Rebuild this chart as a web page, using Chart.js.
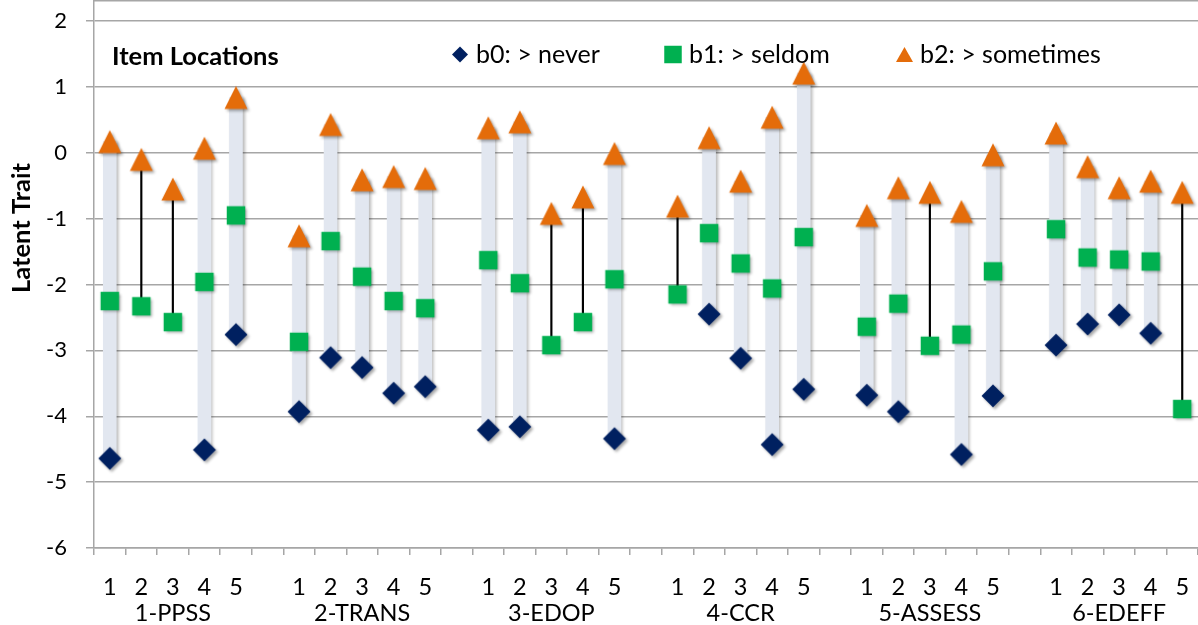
<!DOCTYPE html>
<html>
<head>
<meta charset="utf-8">
<title>Item Locations</title>
<script src="https://cdn.jsdelivr.net/npm/chart.js@4.4.1/dist/chart.umd.min.js"></script>
<style>
  html, body { margin: 0; padding: 0; background: #fff; }
  #wrap { width: 1198px; height: 625px; }
</style>
</head>
<body>
<div id="wrap"><canvas id="itemsChart" width="1198" height="625"></canvas></div>
<script>
// datos: umbrales por item (6 escalas x 5 items)
const grupos = ['1-PPSS', '2-TRANS', '3-EDOP', '4-CCR', '5-ASSESS', '6-EDEFF'];
const items = ['1', '2', '3', '4', '5'];
const b0 = [-4.64, null, null, -4.51, -2.76,
            -3.93, -3.11, -3.26, -3.65, -3.55,
            -4.21, -4.16, null, null, -4.34,
            null, -2.45, -3.12, -4.43, -3.59,
            -3.68, -3.93, null, -4.58, -3.69,
            -2.92, -2.60, -2.46, -2.74, null];
const b1 = [-2.25, -2.33, -2.57, -1.96, -0.95,
            -2.87, -1.34, -1.88, -2.25, -2.36,
            -1.63, -1.98, -2.92, -2.57, -1.92,
            -2.15, -1.22, -1.68, -2.06, -1.28,
            -2.64, -2.29, -2.93, -2.76, -1.80,
            -1.16, -1.59, -1.62, -1.65, -3.89];
const b2 = [0.17, -0.10, -0.55, 0.07, 0.84,
            -1.26, 0.43, -0.41, -0.36, -0.39,
            0.38, 0.47, -0.92, -0.67, -0.01,
            -0.81, 0.23, -0.43, 0.54, 1.21,
            -0.95, -0.53, -0.60, -0.89, -0.03,
            0.30, -0.21, -0.53, -0.43, -0.60];
const yTicks = [-6, -5, -4, -3, -2, -1, 0, 1, 2];
const series = ['b0: > never', 'b1: > seldom', 'b2: > sometimes'];

const FONT = 'Lato, "Open Sans", sans-serif';
const COLORES = { b0: '#002060', b1: '#00b050', b2: '#e46c0a' };

// un hueco vacío entre escalas
function conHuecos(valores) {
    const out = [];
    grupos.forEach((g, gi) => {
        if (gi > 0) out.push(null);
        items.forEach((it, ii) => out.push(valores[gi * items.length + ii]));
    });
    return out;
}

const etiquetas = [];
grupos.forEach((g, gi) => {
    if (gi > 0) etiquetas.push('');
    items.forEach((it, ii) => etiquetas.push(ii === 2 ? [it, g] : it));
});

const s0 = conHuecos(b0), s1 = conHuecos(b1), s2 = conHuecos(b2);
const rango = s0.map((v, i) => (v === null ? null : [v, s2[i]]));
const linea = s0.map((v, i) => (v === null && s1[i] !== null ? [s1[i], s2[i]] : null));

function dibujarForma(ctx, forma, x, y, w, h, color) {
    ctx.fillStyle = color;
    ctx.beginPath();
    if (forma === 'diamond') {
        ctx.moveTo(x, y - h / 2); ctx.lineTo(x + w / 2, y);
        ctx.lineTo(x, y + h / 2); ctx.lineTo(x - w / 2, y);
    } else if (forma === 'square') {
        ctx.rect(x - w / 2, y - h / 2, w, h);
    } else {
        ctx.moveTo(x, y - h / 2); ctx.lineTo(x + w / 2, y + h / 2); ctx.lineTo(x - w / 2, y + h / 2);
    }
    ctx.closePath();
    ctx.fill();
}

function marcador(forma, w, h, color) {
    const c = document.createElement('canvas');
    c.width = 44; c.height = 44;
    const ctx = c.getContext('2d');
    ctx.shadowColor = 'rgba(0,0,0,0.35)';
    ctx.shadowBlur = 3;
    ctx.shadowOffsetX = 2;
    ctx.shadowOffsetY = 2;
    dibujarForma(ctx, forma, 22, 22, w, h, color);
    return c;
}

// sombra suave en las barras
const sombraBarras = {
    id: 'sombraBarras',
    beforeDatasetDraw(chart, args) {
        if (!args.meta._dataset.sombra) return;
        const ctx = chart.ctx;
        ctx.save();
        ctx.shadowColor = 'rgba(0,0,0,0.28)';
        ctx.shadowBlur = 3;
        ctx.shadowOffsetX = 2;
        ctx.shadowOffsetY = 1;
    },
    afterDatasetDraw(chart, args) {
        if (!args.meta._dataset.sombra) return;
        chart.ctx.restore();
    }
};

// titulo, leyenda, borde superior y titulo del eje
const adornos = {
    id: 'adornos',
    afterDraw(chart) {
        const ctx = chart.ctx;
        const area = chart.chartArea;
        ctx.save();
        ctx.strokeStyle = '#a6a6a6';
        ctx.lineWidth = 1.5;
        ctx.beginPath();
        ctx.moveTo(area.left, area.top + 0.75);
        ctx.lineTo(area.right, area.top + 0.75);
        ctx.stroke();

        ctx.fillStyle = '#000';
        ctx.textBaseline = 'alphabetic';
        ctx.textAlign = 'left';
        ctx.font = 'bold 25.5px ' + FONT;
        ctx.fillText('Item Locations', 112, 65);

        const leyenda = [
            { forma: 'diamond', x: 460, w: 16, h: 16, color: COLORES.b0, tx: 476 },
            { forma: 'square', x: 673, w: 17.5, h: 17.5, color: COLORES.b1, tx: 689 },
            { forma: 'triangle', x: 904.5, w: 17, h: 15, color: COLORES.b2, tx: 920 }
        ];
        ctx.font = '25px ' + FONT;
        leyenda.forEach((l, i) => {
            dibujarForma(ctx, l.forma, l.x, 54.5, l.w, l.h, l.color);
            ctx.fillStyle = '#000';
            ctx.fillText(series[i], l.tx, 62.5);
        });

        ctx.translate(30, 228);
        ctx.rotate(-Math.PI / 2);
        ctx.textAlign = 'center';
        ctx.font = 'bold 25.5px ' + FONT;
        ctx.fillText('Latent Trait', 0, 0);
        ctx.restore();
    }
};

const ctx = document.getElementById('itemsChart').getContext('2d');
new Chart(ctx, {
    type: 'bar',
    data: {
        labels: etiquetas,
        datasets: [
            {
                type: 'bar', label: 'rango', data: rango, sombra: true,
                backgroundColor: '#e2e7f0', barThickness: 13, grouped: false, order: 10
            },
            {
                type: 'bar', label: 'linea', data: linea,
                backgroundColor: '#000', barThickness: 1.5, grouped: false, order: 9
            },
            {
                type: 'line', label: series[0], data: s0, showLine: false, order: 3,
                pointStyle: marcador('diamond', 23, 23, COLORES.b0), pointRadius: 11
            },
            {
                type: 'line', label: series[1], data: s1, showLine: false, order: 2,
                pointStyle: marcador('square', 18.5, 18.5, COLORES.b1), pointRadius: 9
            },
            {
                type: 'line', label: series[2], data: s2, showLine: false, order: 1,
                pointStyle: marcador('triangle', 23, 23, COLORES.b2), pointRadius: 11
            }
        ]
    },
    options: {
        responsive: false,
        animation: false,
        layout: { autoPadding: false, padding: { top: 0, right: -4, bottom: 0, left: 0 } },
        plugins: {
            legend: { display: false },
            tooltip: { enabled: false }
        },
        scales: {
            x: {
                offset: true,
                afterFit: s => { s.height = 77; s.paddingLeft = 0; s.paddingRight = 0; },
                ticks: {
                    autoSkip: false, maxRotation: 0, color: '#000', padding: 19,
                    font: { family: FONT, size: 23.5, lineHeight: '26px' }
                },
                grid: { drawOnChartArea: false, offset: true, color: '#a6a6a6', lineWidth: 1.5, tickLength: 7 },
                border: { color: '#a6a6a6', width: 1.5 }
            },
            y: {
                min: -6,
                max: 2.32,
                afterBuildTicks: s => { s.ticks = yTicks.map(v => ({ value: v })); },
                afterFit: s => { s.width = 94; s.paddingTop = 0; s.paddingBottom = 0; },
                ticks: { color: '#000', padding: 19, font: { family: FONT, size: 22 } },
                grid: { color: '#a6a6a6', lineWidth: 1.5, tickLength: 8 },
                border: { color: '#a6a6a6', width: 1.5 }
            }
        }
    },
    plugins: [sombraBarras, adornos]
});
</script>
</body>
</html>
